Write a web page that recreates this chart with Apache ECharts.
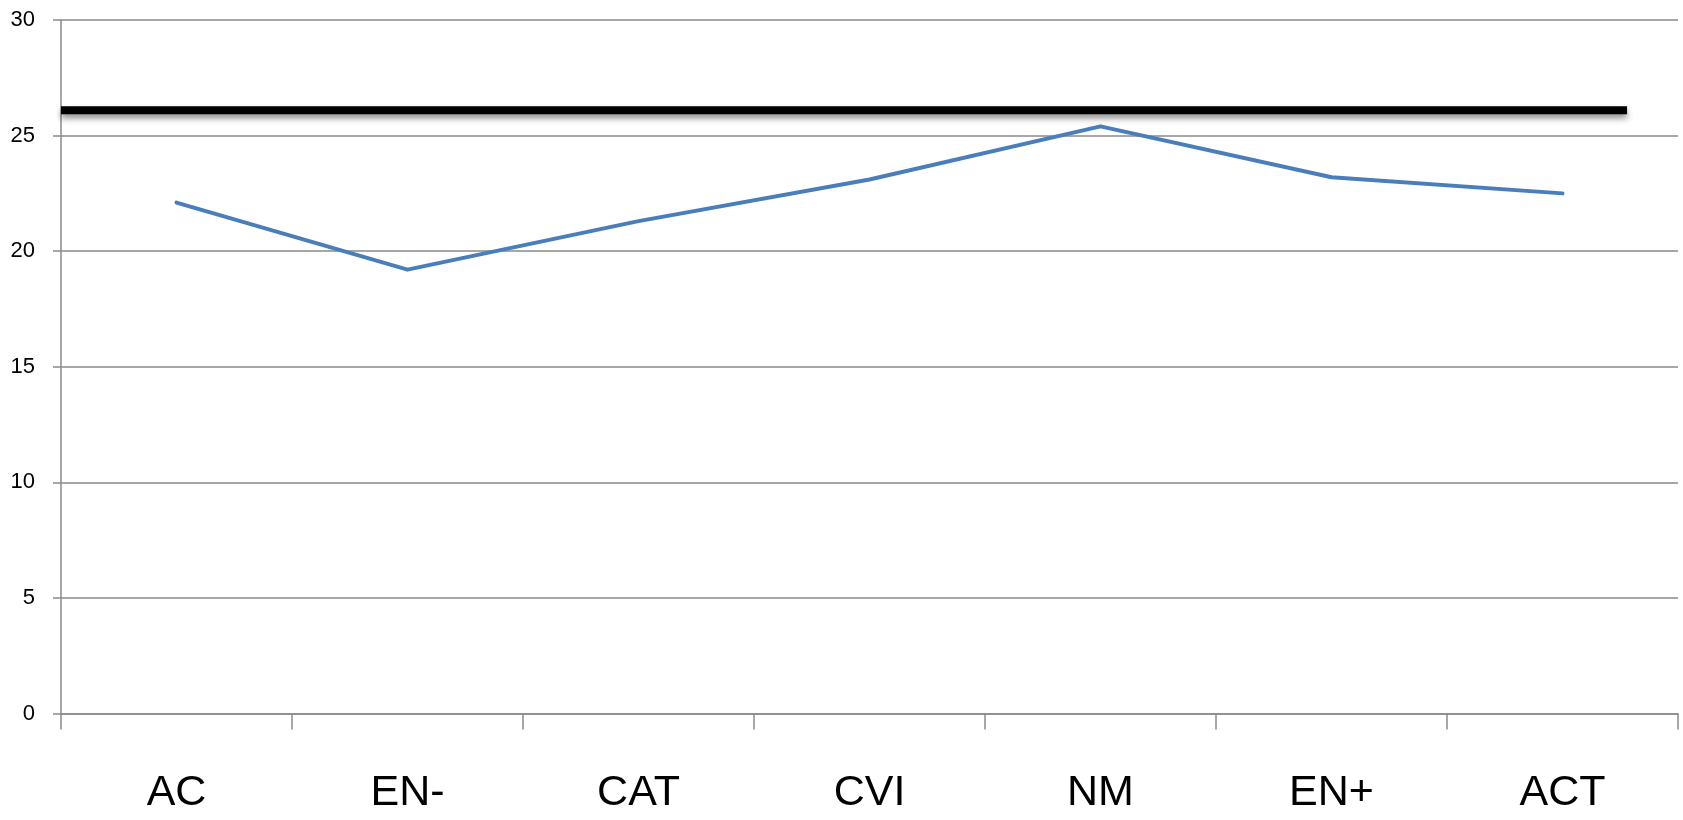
<!DOCTYPE html>
<html>
<head>
<meta charset="utf-8">
<script src="https://cdn.jsdelivr.net/npm/echarts@6/dist/echarts.min.js"></script>
<style>
  html, body { margin: 0; padding: 0; background: #fff; }
  #chart { width: 1683px; height: 820px; }
</style>
</head>
<body>
<div id="chart"></div>
<script>
// Categories along the horizontal axis
const categories = ['AC', 'EN-', 'CAT', 'CVI', 'NM', 'EN+', 'ACT'];
// Score per category
const scores = [22.1, 19.2, 21.3, 23.1, 25.4, 23.2, 22.5];
// Reference level drawn as a thick horizontal bar
const referenceLevel = 26.1;
// Horizontal extent of the reference bar, as a fraction of the plot width
const referenceSpan = [0, 0.9685];
// Value axis ticks
const yTicks = [0, 5, 10, 15, 20, 25, 30];

const gray = '#8a8a8a';
const chart = echarts.init(document.getElementById('chart'), null, { renderer: 'canvas' });

chart.setOption({
  animation: false,
  backgroundColor: '#ffffff',
  grid: { left: 61, right: 5, top: 20, bottom: 106.5 },
  xAxis: [
    {
      type: 'category',
      data: categories,
      boundaryGap: true,
      axisLine: { show: true, lineStyle: { color: gray, width: 1.5 } },
      axisTick: { show: true, length: 16, alignWithLabel: false, lineStyle: { color: gray, width: 1.5 } },
      axisLabel: { margin: 58, fontFamily: 'Liberation Sans', fontSize: 43, color: '#000' },
      splitLine: { show: false }
    },
    {
      // hidden linear axis used to place the reference bar
      type: 'value',
      min: 0,
      max: 1,
      show: false
    }
  ],
  yAxis: {
    type: 'value',
    min: yTicks[0],
    max: yTicks[yTicks.length - 1],
    interval: 5,
    axisLine: { show: true, lineStyle: { color: gray, width: 1.5 } },
    axisTick: { show: true, length: 8, lineStyle: { color: gray, width: 1.5 } },
    axisLabel: { margin: 26, fontFamily: 'Liberation Sans', fontSize: 22, color: '#000' },
    splitLine: { show: true, lineStyle: { color: gray, width: 1.5 } }
  },
  series: [
    {
      type: 'line',
      xAxisIndex: 1,
      data: referenceSpan.map(x => [x, referenceLevel]),
      symbol: 'none',
      z: 4,
      lineStyle: {
        color: '#000',
        width: 8,
        cap: 'butt',
        shadowColor: 'rgba(0,0,0,0.45)',
        shadowBlur: 6,
        shadowOffsetY: 4
      }
    },
    {
      type: 'line',
      xAxisIndex: 0,
      data: scores,
      symbol: 'none',
      z: 3,
      lineStyle: { color: '#4a7ebb', width: 4, cap: 'round', join: 'round' }
    }
  ]
});
</script>
</body>
</html>
